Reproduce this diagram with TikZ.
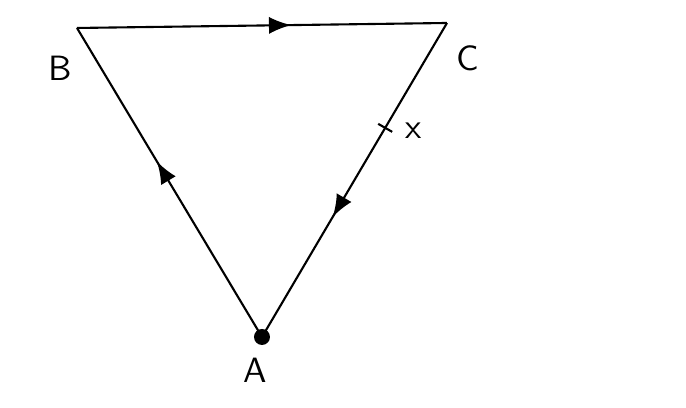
\documentclass[tikz,border=0pt]{standalone}
\usetikzlibrary{decorations.markings,arrows,positioning}

\tikzset{
	side/.style={semithick},
	flow/.style={decoration={markings,mark=at position #1 with {\arrow[scale=1.4]{latex}}},postaction={decorate}},
}

\begin{document}
\begin{tikzpicture}[font=\sffamily]
	\useasboundingbox (0,0) rectangle (6.86,4.08);
	
	\coordinate (B) at (0.77,3.80);
	\coordinate (C) at (4.47,3.85);
	\coordinate (A) at (2.62,0.71);
	
							\node (labB) at (0.60,3.40) {B};
							\node (labC) at (4.68,3.50) {C};
							\node (labA) at (2.55,0.38) {A};
							
					\draw [side,flow=0.58] (B) -- (C);
					\draw [side,flow=0.62] (C) -- coordinate[pos=0.334] (X) (A);
					\draw [side,flow=0.57] (A) -- (B);
					
					\fill (A) circle (0.08);
					
					\draw [side] (X) -- ++(0.07,-0.04);
					\draw [side] (X) -- ++(-0.07,0.04);
					\node[right=0.08cm of X,yshift=-0.03cm] (labX) {x};
\end{tikzpicture}
\end{document}
